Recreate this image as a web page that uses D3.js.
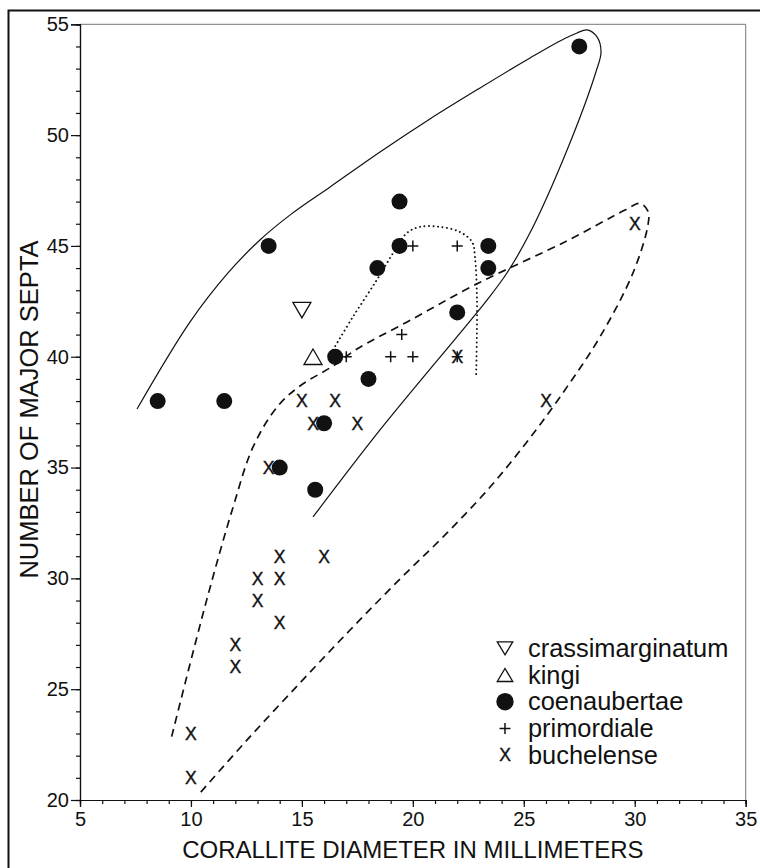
<!DOCTYPE html>
<html lang="en">
<head>
    <meta charset="UTF-8">
    <title>Septa vs corallite diameter</title>
    <script src="https://d3js.org/d3.v7.min.js"></script>
    <style>
        body{
            margin: 0;
            background: #fff;
        }
        text{
            font-family: "Liberation Sans", Arial, Helvetica, sans-serif;
            fill: #111;
        }
        .axis path,
        .axis line{
            fill: none;
            stroke: #111;
            stroke-width: 1.2;
        }
    </style>
</head>
<body>
<script>
    // size + plot box
    var w = 760;
    var h = 868;
    var padL = 80, padR = 745.7, padT = 24.3, padB = 800;

    // data: [diameter mm, number of major septa]
    var crassimarginatum = [[15, 42.1]];
    var kingi = [[15.5, 40]];
    var coenaubertae = [[8.5, 38], [11.5, 38], [13.5, 45], [14, 35], [15.6, 34], [16, 37], [16.5, 40],
        [18, 39], [18.4, 44], [19.4, 47], [19.4, 45], [22, 42], [23.4, 45], [23.4, 44], [27.5, 54]];
    var primordiale = [[17, 40], [19, 40], [20, 40], [22, 40], [19.5, 41], [20, 45], [22, 45]];
    var buchelense = [[10, 21], [10, 23], [12, 26], [12, 27], [13, 29], [13, 30], [14, 28], [14, 30],
        [14, 31], [16, 31], [13.5, 35], [15.5, 37], [17.5, 37], [15, 38], [16.5, 38], [22, 40],
        [26, 38], [30, 46]];

    // hand drawn group outlines
    var coenaubertaeOutline = [[7.57, 37.64], [9.96, 41.57], [11.67, 43.78], [13.11, 45.27], [14.46, 46.39],
        [16.27, 47.66], [18.52, 49.24], [20.77, 50.73], [23.03, 52.13], [25.28, 53.48], [26.63, 54.25],
        [27.4, 54.61], [27.85, 54.75], [28.3, 54.43], [28.48, 53.75], [28.25, 52.85], [26.95, 49.33],
        [25.28, 45.59], [24.24, 43.78], [23.34, 42.56], [18.52, 36.7], [15.5, 32.77]];
    var primordialeOutline = [[16.4, 40.31], [17.3, 41.8], [18.38, 43.47], [19.11, 44.68], [19.74, 45.59],
        [20.32, 45.86], [21.22, 45.86], [22.12, 45.63], [22.67, 45.18], [22.8, 44.5], [22.89, 42.56],
        [22.85, 39.04]];
    var buchelenseOutline = [[9.13, 22.86], [10.71, 29.03], [11.9, 33.22], [12.8, 35.93], [13.88, 37.73],
        [14.91, 38.68], [16.4, 39.58], [17.48, 40.35], [19.74, 41.57], [22.89, 43.29], [26.95, 45.23],
        [29.56, 46.62], [30.24, 46.92], [30.6, 46.56], [30.6, 45.97], [29.92, 43.78], [28.43, 40.89],
        [26.95, 38.64], [25.28, 36.34], [23.48, 34.12], [21.54, 32.05], [19.42, 29.97], [17.17, 27.67],
        [14.91, 25.28], [12.53, 22.71], [10.41, 20.32]];

    var legendNames = ["crassimarginatum", "kingi", "coenaubertae", "primordiale", "buchelense"];

    var svg = d3.select("body").append("svg")
        .attr("width", w)
        .attr("height", h);

    // outer frame
    svg.append("rect")
        .attr("x", 8.5).attr("y", 10.5)
        .attr("width", 800).attr("height", 900)
        .attr("fill", "none")
        .attr("stroke", "#111")
        .attr("stroke-width", 2);

    var xScale = d3.scaleLinear().domain([5, 35]).range([padL, padR]);
    var yScale = d3.scaleLinear().domain([20, 55]).range([padB, padT]);

    // top / right edges of the plot box
    svg.append("path")
        .attr("d", `M${padL},${padT}H${padR}V${padB}`)
        .attr("fill", "none")
        .attr("stroke", "#777")
        .attr("stroke-width", 1);

    // minor ticks
    svg.append("g").classed("axis", true)
        .attr("transform", `translate(${padL},0)`)
        .call(d3.axisLeft(yScale).tickValues(d3.range(20, 56, 1)).tickSize(4).tickFormat(""));
    svg.append("g").classed("axis", true)
        .attr("transform", `translate(0,${padB})`)
        .call(d3.axisBottom(xScale).tickValues(d3.range(5, 36, 1)).tickSize(4).tickFormat(""));

    // major ticks
    svg.append("g").classed("axis", true)
        .attr("transform", `translate(${padL},0)`)
        .call(d3.axisLeft(yScale).tickValues(d3.range(20, 56, 5)).tickSize(9).tickPadding(2))
        .selectAll("text").style("font-size", "20px");
    svg.append("g").classed("axis", true)
        .attr("transform", `translate(0,${padB})`)
        .call(d3.axisBottom(xScale).tickValues(d3.range(5, 36, 5)).tickSize(7).tickPadding(5))
        .selectAll("text").style("font-size", "20px");

    // axis titles
    svg.append("text")
        .attr("x", (padL + padR) / 2)
        .attr("y", 858)
        .attr("text-anchor", "middle")
        .style("font-size", "24px")
        .text("CORALLITE DIAMETER IN MILLIMETERS");

    svg.append("text")
        .attr("transform", "translate(38,409.5) rotate(-90)")
        .attr("text-anchor", "middle")
        .style("font-size", "25.5px")
        .text("NUMBER OF MAJOR SEPTA");

    // outlines
    var line = d3.line()
        .x(d => xScale(d[0]))
        .y(d => yScale(d[1]))
        .curve(d3.curveCatmullRom.alpha(0.5));

    svg.append("path")
        .attr("d", line(coenaubertaeOutline))
        .attr("fill", "none").attr("stroke", "#111").attr("stroke-width", 1.2);
    svg.append("path")
        .attr("d", line(buchelenseOutline))
        .attr("fill", "none").attr("stroke", "#111").attr("stroke-width", 1.7)
        .attr("stroke-dasharray", "8,5.5");
    svg.append("path")
        .attr("d", line(primordialeOutline))
        .attr("fill", "none").attr("stroke", "#111").attr("stroke-width", 1.9)
        .attr("stroke-linecap", "round")
        .attr("stroke-dasharray", "0.1,4.4");

    // marker shapes
    function tri(up, tw, th) {
        var s = up ? 1 : -1;
        return `M0,${-s * th / 2}L${tw / 2},${s * th / 2}L${-tw / 2},${s * th / 2}Z`;
    }
    var plusPath = "M-5.5,0H5.5M0,-5.5V5.5";

    function drawMarker(g, kind, inPlot) {
        if (kind === "crassimarginatum" || kind === "kingi") {
            g.append("path")
                .attr("d", inPlot ? tri(kind === "kingi", 18, 15.5) : tri(kind === "kingi", 15.5, 13))
                .attr("fill", "white").attr("stroke", "#111").attr("stroke-width", 1.3);
        } else if (kind === "coenaubertae") {
            g.append("circle").attr("r", inPlot ? 8 : 8.7).attr("fill", "#111");
        } else if (kind === "primordiale") {
            g.append("path").attr("d", plusPath)
                .attr("stroke", "#111").attr("stroke-width", 1.5).attr("fill", "none");
        } else {
            g.append("text")
                .attr("text-anchor", "middle")
                .attr("dy", "0.36em")
                .attr("stroke", "#111")
                .attr("stroke-width", 0.4)
                .style("font-size", "17.5px")
                .text("X");
        }
    }

    var groups = [
        ["buchelense", buchelense],
        ["primordiale", primordiale],
        ["coenaubertae", coenaubertae],
        ["kingi", kingi],
        ["crassimarginatum", crassimarginatum]
    ];

    groups.forEach(function (grp) {
        svg.append("g").selectAll("g")
            .data(grp[1])
            .enter()
            .append("g")
            .attr("transform", d => `translate(${xScale(d[0])},${yScale(d[1])})`)
            .each(function () { drawMarker(d3.select(this), grp[0], true); });
    });

    // legend
    var legend = svg.append("g").attr("transform", "translate(505,648.3)");
    var rows = legend.selectAll("g")
        .data(legendNames)
        .enter()
        .append("g")
        .attr("transform", (d, i) => `translate(0,${i * 26.7})`);
    rows.each(function (d) { drawMarker(d3.select(this), d, false); });
    rows.append("text")
        .attr("x", 23)
        .attr("y", 8.5)
        .style("font-size", "25.4px")
        .text(d => d);
</script>
</body>
</html>
